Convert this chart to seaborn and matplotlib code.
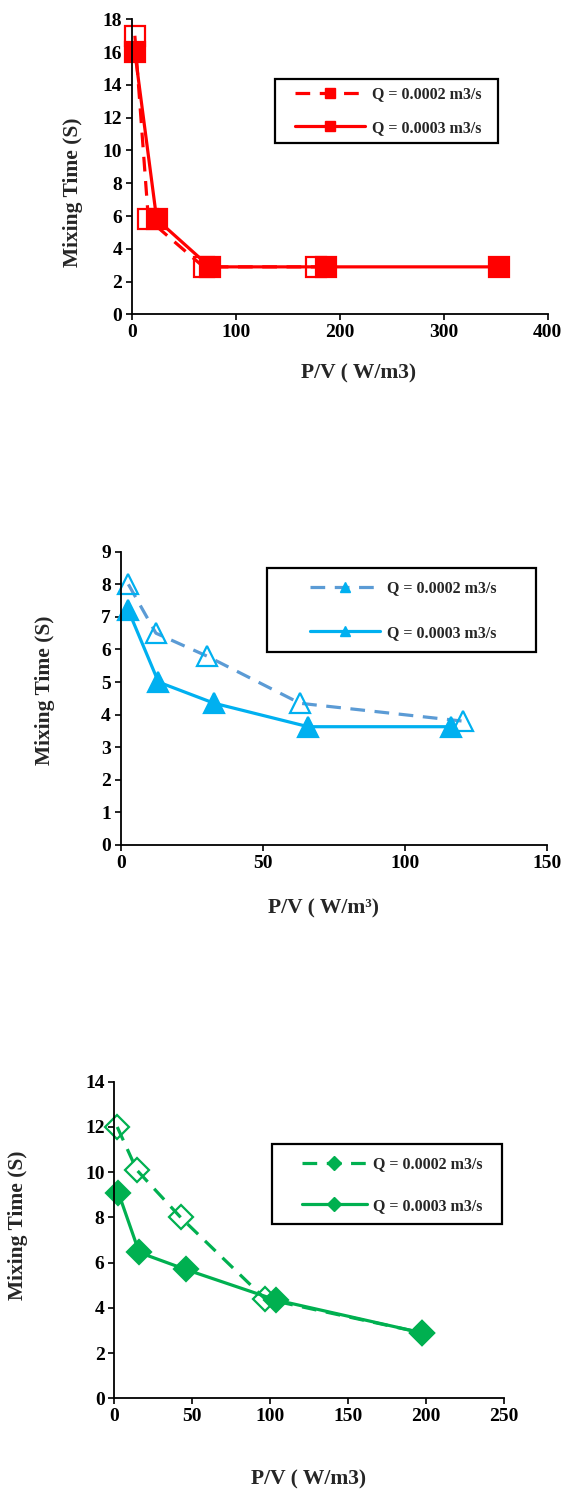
import numpy as np
import pandas as pd
import matplotlib
matplotlib.use("Agg")
import matplotlib.pyplot as plt
import seaborn as sns
from matplotlib.lines import Line2D
from matplotlib.patches import Rectangle

sns.set_theme(style="white")
plt.rcParams['font.family'] = ['Liberation Serif', 'DejaVu Serif']
plt.rcParams['font.weight'] = 'bold'
plt.rcParams['axes.labelweight'] = 'bold'

# Chart 1 (red, squares)
pv1_q2 = [3, 16, 69, 177]
mt1_q2 = [17.0, 5.8, 2.9, 2.9]
pv1_q3 = [3, 24, 75, 187, 353]
mt1_q3 = [16.0, 5.8, 2.9, 2.9, 2.9]

# Chart 2 (blue, triangles)
pv2_q2 = [2.7, 12.4, 30.3, 63.1, 120.6]
mt2_q2 = [8.0, 6.5, 5.8, 4.35, 3.8]
pv2_q3 = [2.7, 13.3, 32.9, 66.0, 116.2]
mt2_q3 = [7.2, 5.0, 4.35, 3.63, 3.63]

# Chart 3 (green, diamonds)
pv3_q2 = [1.9, 14.4, 42.6, 96.7, 197.2]
mt3_q2 = [12.0, 10.1, 8.0, 4.4, 2.9]
pv3_q3 = [2.6, 16.0, 45.8, 103.7, 197.2]
mt3_q3 = [9.1, 6.45, 5.7, 4.35, 2.9]

labels = ["Q = 0.0002 m3/s", "Q = 0.0003 m3/s"]

fig = plt.figure(figsize=(5.63, 14.90), dpi=100)

panels = [
    dict(rect=[0.234, 0.789, 0.739, 0.198], data=[(pv1_q2, mt1_q2), (pv1_q3, mt1_q3)],
         colors=['#FF0000', '#FF0000'], mcolors=['#FF0000', '#FF0000'], marker='s', ms=14,
         xlim=(0, 400), xticks=range(0, 401, 100), ylim=(0, 18), yticks=range(0, 19, 2),
         xlabel="P/V ( W/m3)", xlab_pos=(0.544, -0.165), ylab_pos=(-0.141, 0.415),
         box=(0.3445, 0.580, 0.536, 0.217), leg_anchor=(0.3926, 0.689),
         labelspacing=1.09, handlelength=4.4),
    dict(rect=[0.2144, 0.4329, 0.7567, 0.1968], data=[(pv2_q2, mt2_q2), (pv2_q3, mt2_q3)],
         colors=['#5B9BD5', '#00B0F0'], mcolors=['#00B0F0', '#00B0F0'], marker='^', ms=15,
         xlim=(0, 150), xticks=range(0, 151, 50), ylim=(0, 9), yticks=range(0, 10),
         xlabel="P/V ( W/m³)", xlab_pos=(0.475, -0.181), ylab_pos=(-0.178, 0.528),
         box=(0.3441, 0.657, 0.631, 0.2885), leg_anchor=(0.4444, 0.800),
         labelspacing=1.78, handlelength=4.4),
    dict(rect=[0.203, 0.0615, 0.6922, 0.2125], data=[(pv3_q2, mt3_q2), (pv3_q3, mt3_q3)],
         colors=['#00B050', '#00B050'], mcolors=['#00B050', '#00B050'], marker='D', ms=12,
         xlim=(0, 250), xticks=range(0, 251, 50), ylim=(0, 14), yticks=range(0, 15, 2),
         xlabel="P/V ( W/m3)", xlab_pos=(0.4996, -0.226), ylab_pos=(-0.247, 0.547),
         box=(0.4039, 0.5505, 0.590, 0.2527), leg_anchor=(0.4809, 0.674),
         labelspacing=1.6, handlelength=4.06),
]

dash = (4.6, 3.0)

for p in panels:
    ax = fig.add_axes(p['rect'])
    styles = ['--', '-']
    for i, (xs, ys) in enumerate(p['data']):
        df = pd.DataFrame({'pv': xs, 'mt': ys})
        face = 'none' if i == 0 else p['mcolors'][i]
        sns.lineplot(data=df, x='pv', y='mt', ax=ax, sort=False, color=p['colors'][i],
                     linewidth=2.3, linestyle=styles[i], clip_on=False,
                     marker=p['marker'], markersize=p['ms'], markeredgewidth=1.6,
                     markeredgecolor=p['mcolors'][i], markerfacecolor=face)
        if i == 0:
            ax.lines[-1].set_dashes(dash)
    ax.set_xlim(*p['xlim'])
    ax.set_ylim(*p['ylim'])
    ax.set_xticks(list(p['xticks']))
    ax.set_yticks(list(p['yticks']))
    for s in ['top', 'right']:
        ax.spines[s].set_visible(False)
    for s in ['left', 'bottom']:
        ax.spines[s].set_color('black')
        ax.spines[s].set_linewidth(1.3)
    ax.tick_params(axis='both', direction='out', length=4, width=1.2, colors='black',
                   labelsize=14, pad=3, left=True, bottom=True)
    for t in ax.get_xticklabels() + ax.get_yticklabels():
        t.set_fontweight('bold')
    ax.set_xlabel(p['xlabel'], fontsize=15.5, fontweight='bold', va='top')
    ax.set_ylabel("Mixing Time (S)", fontsize=15.5, fontweight='bold', va='center')
    ax.xaxis.set_label_coords(*p['xlab_pos'])
    ax.yaxis.set_label_coords(*p['ylab_pos'])

    # legend box
    bx, by, bw, bh = p['box']
    ax.add_patch(Rectangle((bx, by), bw, bh, transform=ax.transAxes, fill=True,
                           facecolor='white', edgecolor='black', linewidth=1.6,
                           clip_on=False, zorder=4))
    handles = [
        Line2D([], [], color=p['colors'][0], lw=2.3, dashes=dash, marker=p['marker'],
               markersize=7, markerfacecolor=p['mcolors'][0],
               markeredgecolor=p['mcolors'][0]),
        Line2D([], [], color=p['colors'][1], lw=2.3, marker=p['marker'],
               markersize=7, markerfacecolor=p['mcolors'][1],
               markeredgecolor=p['mcolors'][1]),
    ]
    leg = ax.legend(handles, labels, loc='center left', bbox_to_anchor=p['leg_anchor'],
                    frameon=False,
                    prop={'family': 'Liberation Serif', 'weight': 'bold', 'size': 11.5},
                    handlelength=p['handlelength'], handletextpad=0.4,
                    labelspacing=p['labelspacing'], borderpad=0, borderaxespad=0)
    leg.set_zorder(5)

fig.savefig("out.png", dpi=100, facecolor='white')
